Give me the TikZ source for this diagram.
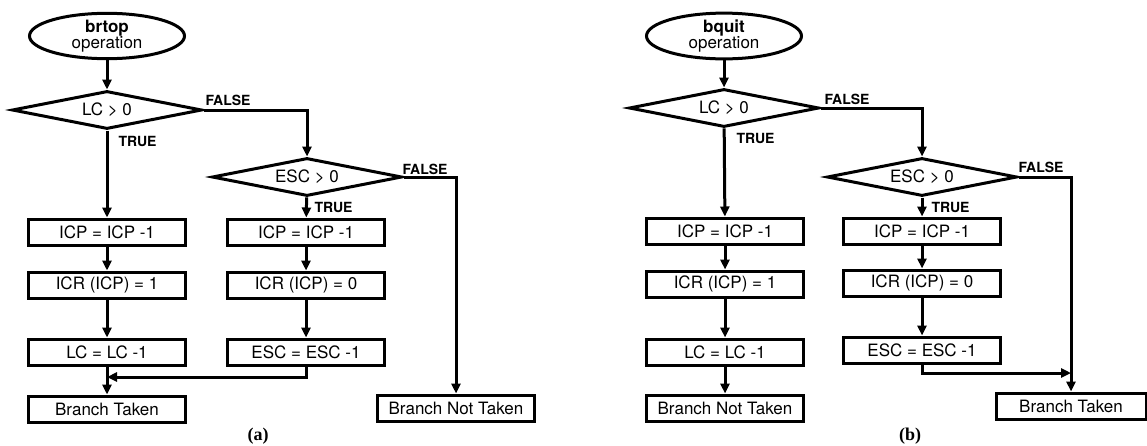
\documentclass[tikz,border=0pt]{standalone}
\usepackage{fontspec}
\setmainfont{TeX Gyre Heros}
\newfontfamily\capfont{Liberation Serif}
\usetikzlibrary{shapes.geometric, arrows.meta, positioning}

\begin{document}
\begin{tikzpicture}[x=1pt, y=-1pt, line width=3pt,
    >={Triangle[length=10pt,width=9pt]},
    oper/.style={draw, ellipse, minimum width=155pt, minimum height=45pt, inner sep=0pt, align=center, font=\fontsize{17}{16}\selectfont},
    test/.style={draw, diamond, aspect=5, minimum width=190pt, minimum height=38pt, inner sep=0pt, font=\fontsize{17}{18}\selectfont},
    stepbox/.style={draw, rectangle, minimum width=157pt, minimum height=26pt, inner sep=0pt, font=\fontsize{17}{18}\selectfont},
    flag/.style={anchor=west, inner sep=0pt, font=\fontsize{14}{15}\selectfont\bfseries},
    panel/.style={font=\fontsize{18}{20}\selectfont\capfont\bfseries}]

    \useasboundingbox (0,0) rectangle (1147,445);

    % (a) brtop
    \node[oper] (opA) at (107,36) {{\bfseries brtop}\\operation};
    \node[test] (lcA) at (107,110) {LC > 0};
    \node[test] (escA) at (307,177) {ESC > 0};

    \node[stepbox] (icpA) at (107,232) {ICP = ICP -1};
    \node[stepbox] (icrA) at (107,285) {ICR (ICP) = 1};
    \node[stepbox] (lcdA) at (107,352) {LC = LC -1};
    \node[stepbox] (takenA) at (107,409) {Branch Taken};

    \node[stepbox] (icpA2) at (306,232) {ICP = ICP -1};
    \node[stepbox] (icrA2) at (306,285) {ICR (ICP) = 0};
    \node[stepbox] (escdA) at (306,352) {ESC = ESC -1};

    \node[stepbox] (notA) at (456,408) {Branch Not Taken};
    \coordinate (joinA) at (107,377);

    \node[flag] (tA1) at (117,141) {TRUE};
    \node[flag] (fA1) at (204,100) {FALSE};
    \node[flag] (tA2) at (313,207) {TRUE};
    \node[flag] (fA2) at (401,169) {FALSE};

    \draw[->] (opA) -- (lcA);
    \draw[->] (lcA) -- (icpA);
    \draw[->] (lcA.east) -| (escA.north);
    \draw[->] (escA) -- (icpA2);
    \draw[->] (escA.east) -| (notA.north);
    \draw[->] (icpA) -- (icrA);
    \draw[->] (icrA) -- (lcdA);
    \draw[->] (lcdA) -- (takenA);
    \draw[->] (icpA2) -- (icrA2);
    \draw[->] (icrA2) -- (escdA);
    \draw[->] (escdA.south) |- (joinA);

    \node[panel] (capA) at (258,436) {(a)};

    % (b) bquit
    \node[oper] (opB) at (724,36) {{\bfseries bquit}\\operation};
    \node[test] (lcB) at (724,108) {LC > 0};
    \node[test] (escB) at (922,177) {ESC > 0};

    \node[stepbox] (icpB) at (725,231) {ICP = ICP -1};
    \node[stepbox] (icrB) at (725,284) {ICR (ICP) = 1};
    \node[stepbox] (lcdB) at (725,352) {LC = LC -1};
    \node[stepbox] (notB) at (725,408) {Branch Not Taken};

    \node[stepbox] (icpB2) at (922,231) {ICP = ICP -1};
    \node[stepbox] (icrB2) at (922,283) {ICR (ICP) = 0};
    \node[stepbox] (escdB) at (922,350) {ESC = ESC -1};

    \node[stepbox, minimum width=150pt] (takenB) at (1071,406) {Branch Taken};
    \coordinate (joinB) at (1071,373);

    \node[flag] (tB1) at (735,138) {TRUE};
    \node[flag] (fB1) at (823,99) {FALSE};
    \node[flag] (tB2) at (930,207) {TRUE};
    \node[flag] (fB2) at (1017,167) {FALSE};

    \draw[->] (opB) -- (lcB);
    \draw[->] (lcB) -- (icpB);
    \draw[->] (lcB.east) -| (escB.north);
    \draw[->] (escB) -- (icpB2);
    \draw[->] (escB.east) -| (takenB.north);
    \draw[->] (icpB) -- (icrB);
    \draw[->] (icrB) -- (lcdB);
    \draw[->] (lcdB) -- (notB);
    \draw[->] (icpB2) -- (icrB2);
    \draw[->] (icrB2) -- (escdB);
    \draw[->] (escdB.south) |- (joinB);

    \node[panel] (capB) at (910,436) {(b)};

\end{tikzpicture}
\end{document}
